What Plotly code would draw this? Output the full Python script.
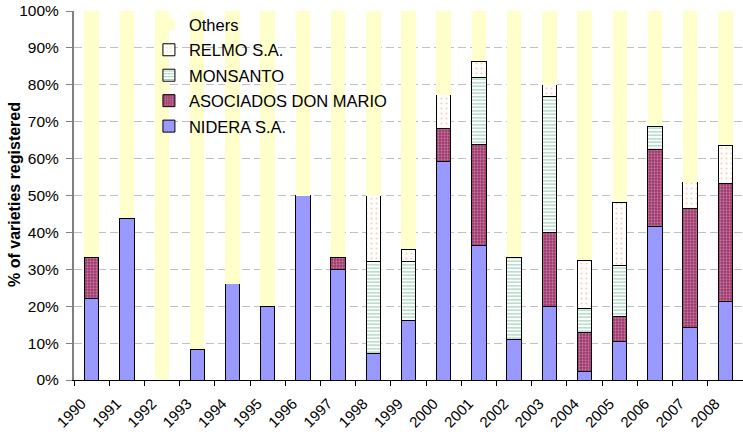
import plotly.graph_objects as go

years = [str(y) for y in range(1990, 2009)]
nidera = [22.2, 43.8, 0, 8.3, 26.1, 20.0, 50.0, 30.0, 7.1, 16.1, 59.1, 36.4, 11.1, 20.0, 2.2, 10.3, 41.7, 14.3, 21.2]
don_mario = [11.1, 0, 0, 0, 0, 0, 0, 3.3, 0, 0, 9.1, 27.3, 0, 20.0, 10.8, 6.9, 20.8, 32.1, 32.1]
monsanto = [0, 0, 0, 0, 0, 0, 0, 0, 25.0, 16.1, 0, 18.2, 22.2, 36.7, 6.5, 13.8, 6.3, 0, 0]
relmo = [0, 0, 0, 0, 0, 0, 0, 0, 17.9, 3.2, 9.1, 4.5, 0, 3.3, 13.0, 17.2, 0, 7.1, 10.3]
others = [round(100 - a - b - c - d, 1) for a, b, c, d in zip(nidera, don_mario, monsanto, relmo)]

y_ticks = list(range(0, 101, 10))
y_ticktext = [f"{v}%" for v in y_ticks]


def nz(vals):
    return [v if v else None for v in vals]


FONT = "Liberation Sans, Arial, sans-serif"
fig = go.Figure()
fig.add_trace(go.Bar(
    x=years, y=nz(nidera), name="NIDERA S.A.", legendgroup="a", legendrank=5,
    marker=dict(color="#9999FF", line=dict(color="#000000", width=1)),
))
fig.add_trace(go.Bar(
    x=years, y=nz(don_mario), name="ASOCIADOS DON MARIO", legendgroup="b", legendrank=4,
    marker=dict(color="#993366", line=dict(color="#000000", width=1),
                pattern=dict(shape=".", size=3, solidity=0.45, fgcolor="#EBB5D5", bgcolor="#993366", fillmode="overlay")),
))
fig.add_trace(go.Bar(
    x=years, y=nz(monsanto), name="MONSANTO", legendgroup="c", legendrank=3,
    marker=dict(color="#FFFFFF", line=dict(color="#000000", width=1),
                pattern=dict(shape="-", size=3.5, solidity=0.35, fgcolor="#3C9D6E", bgcolor="#FFFFFF", fillmode="overlay")),
))
fig.add_trace(go.Bar(
    x=years, y=nz(relmo), name="RELMO S.A.", legendgroup="d", legendrank=2,
    marker=dict(color="#FFFFFF", line=dict(color="#000000", width=1),
                pattern=dict(shape=".", size=5, solidity=0.15, fgcolor="#FF9966", bgcolor="#FFFFFF", fillmode="overlay")),
))
fig.add_trace(go.Bar(
    x=years, y=nz(others), name="Others", legendgroup="e", legendrank=1,
    marker=dict(color="#FFFFCC", line=dict(width=0)),
))

fig.update_layout(
    width=743, height=434,
    margin=dict(l=74, r=0, t=11, b=54, autoexpand=False),
    barmode="stack", bargap=0.59,
    plot_bgcolor="#FFFFFF", paper_bgcolor="#FFFFFF",
    font=dict(family=FONT, size=15.5, color="#000000"),
    showlegend=True,
    legend=dict(
        x=0.112, y=1.0106, xanchor="left", yanchor="top",
        traceorder="grouped", tracegroupgap=1,
        font=dict(family=FONT, size=16.5, color="#000000"),
        bgcolor="rgba(0,0,0,0)",
    ),
    xaxis=dict(
        type="category", tickangle=-45, tickson="boundaries",
        ticks="outside", ticklen=5, tickcolor="#000000",
        showline=True, linecolor="#000000", linewidth=1,
        showgrid=False, tickfont=dict(size=15), automargin=False,
        ticklabelshift=-10, ticklabelstandoff=8,
    ),
    yaxis=dict(
        range=[0, 100], tickvals=y_ticks, ticktext=y_ticktext,
        ticks="outside", ticklen=6, tickcolor="#808080",
        showline=True, linecolor="#808080", linewidth=2,
        showgrid=True, gridcolor="#C0C0C0", griddash="8px,4px", gridwidth=1,
        zeroline=False, tickfont=dict(size=15.5), automargin=False,
        ticklabelstandoff=4,
    ),
    annotations=[dict(
        text="<b>% of varieties registered</b>", textangle=-90,
        xref="paper", yref="paper", x=-0.089, y=0.5027,
        xanchor="center", yanchor="middle", showarrow=False,
        font=dict(family=FONT, size=16, color="#000000"),
    )],
)

fig.write_html("out.html", post_script="document.body.style.margin='0';",
               config={"displayModeBar": False})
